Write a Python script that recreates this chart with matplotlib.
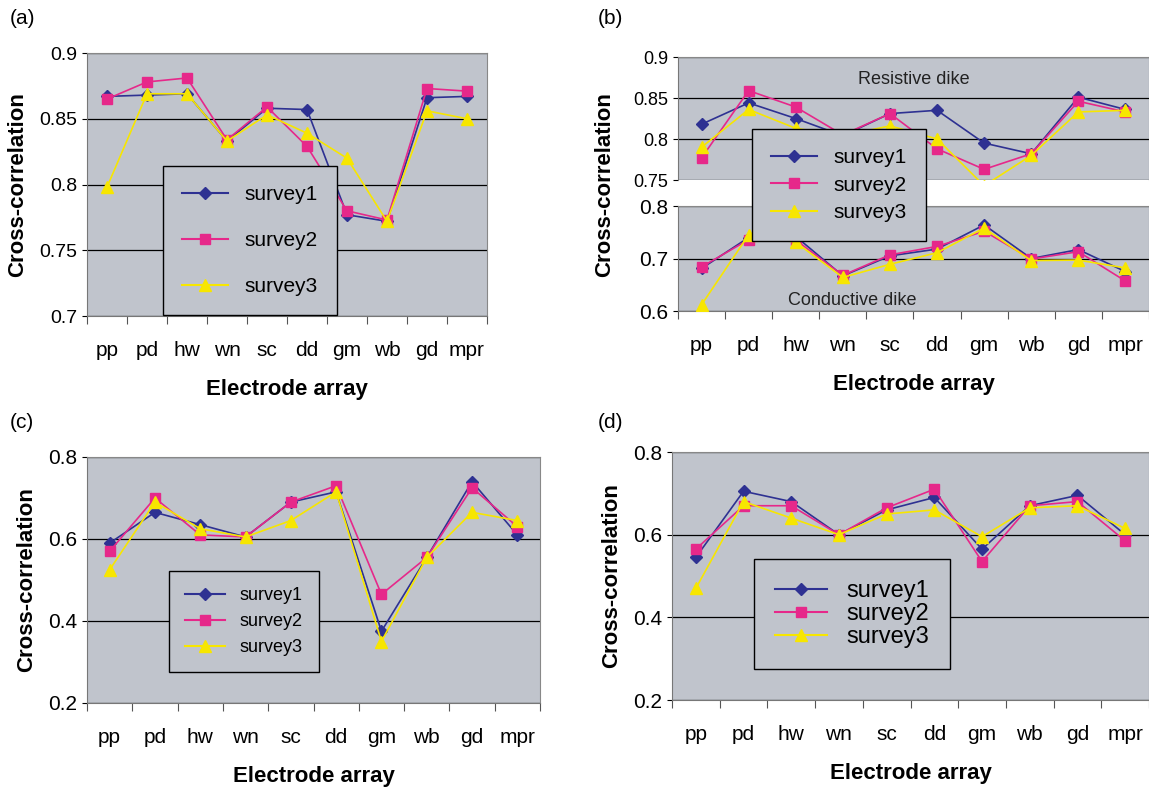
import matplotlib
matplotlib.use("Agg")
import matplotlib.pyplot as plt
from matplotlib.lines import Line2D
plt.rcParams['font.family'] = ['Liberation Sans', 'DejaVu Sans']

cats = ["pp","pd","hw","wn","sc","dd","gm","wb","gd","mpr"]
a1 = [.867,.868,.869,.833,.858,.857,.777,.772,.866,.867]
a2 = [.865,.878,.881,.834,.859,.829,.780,.773,.873,.871]
a3 = [.798,.869,.869,.833,.853,.839,.820,.772,.856,.850]
bu1 = [.818,.844,.825,.804,.831,.835,.795,.782,.851,.836]
bu2 = [.777,.859,.839,.805,.831,.788,.763,.782,.846,.833]
bu3 = [.790,.836,.813,.804,.816,.800,.743,.780,.833,.835]
bl1 = [.681,.740,.742,.667,.705,.718,.764,.700,.717,.675]
bl2 = [.684,.736,.735,.668,.707,.723,.752,.699,.713,.657]
bl3 = [.612,.745,.731,.664,.689,.711,.758,.696,.697,.682]
c1 = [.59,.665,.635,.605,.69,.715,.375,.555,.74,.61]
c2 = [.57,.70,.61,.605,.69,.73,.465,.555,.725,.63]
c3 = [.525,.69,.625,.605,.645,.715,.35,.555,.665,.645]
d1 = [.545,.705,.68,.60,.66,.69,.565,.67,.695,.60]
d2 = [.565,.67,.67,.60,.665,.71,.535,.67,.68,.585]
d3 = [.47,.68,.64,.60,.65,.66,.595,.665,.67,.615]

C1, C2, C3 = "#2e3192", "#e6288a", "#f7e600"
BG = "#c0c4cc"
W, H = 1149, 789
fig = plt.figure(figsize=(W/100, H/100), dpi=100)

def ax_px(x0, y0, x1, y1):
    return fig.add_axes([x0/W, 1-y1/H, (x1-x0)/W, (y1-y0)/H])

x = list(range(len(cats)))

def style(ax, yt, ylim, fmt, labels=True, fs=14):
    ax.set_facecolor(BG)
    ax.set_xlim(-0.5, 9.5)
    ax.set_ylim(*ylim)
    ax.set_yticks(yt)
    ax.set_yticklabels([fmt(v) for v in yt], fontsize=fs)
    for v in yt:
        ax.axhline(v, color="black", lw=0.9, zorder=1)
    ax.set_xticks([i-0.5 for i in range(11)])
    ax.set_xticklabels([])
    ax.tick_params(axis="x", length=6, color="#555")
    ax.set_xticks(x, minor=True)
    if labels:
        ax.set_xticklabels(cats, minor=True, fontsize=15)
    ax.tick_params(axis="x", which="minor", length=0, pad=18)
    for s in ["top", "right"]:
        ax.spines[s].set_color("#888")
    ax.spines["left"].set_color("#777")
    ax.spines["bottom"].set_color("#777")

def plot3(ax, s1, s2, s3):
    ax.plot(x, s1, color=C1, marker="D", ms=6, lw=1.2, zorder=3)
    ax.plot(x, s2, color=C2, marker="s", ms=7, lw=1.2, zorder=4)
    ax.plot(x, s3, color=C3, marker="^", ms=8, lw=1.2, zorder=5)

handles = [Line2D([], [], color=C1, marker="D", ms=6),
           Line2D([], [], color=C2, marker="s", ms=7),
           Line2D([], [], color=C3, marker="^", ms=8)]
names = ["survey1", "survey2", "survey3"]

def leg(where, bbox, fs, spacing):
    l = where.legend(handles, names, loc="center", bbox_to_anchor=bbox,
                     bbox_transform=fig.transFigure, fontsize=fs, frameon=True,
                     fancybox=False, facecolor=BG, edgecolor="black",
                     labelspacing=spacing, borderpad=0.9, handlelength=2.2)
    l.get_frame().set_alpha(1)
    l.set_zorder(10)
    return l

def bx(x0, y0, x1, y1):
    return (x0/W, 1-y1/H, (x1-x0)/W, (y1-y0)/H)

f2 = lambda v: ("%.2f" % v).rstrip("0").rstrip(".") if v != round(v, 1) else "%.1f" % v
f1 = lambda v: "%.1f" % v
LB = dict(fontsize=16, fontweight="bold")

# (a)
ax = ax_px(87, 53, 487, 316)
style(ax, [0.7, 0.75, 0.8, 0.85, 0.9], (0.7, 0.9), f2)
plot3(ax, a1, a2, a3)
ax.set_ylabel("Cross-correlation", labelpad=8, **LB)
ax.set_xlabel("Electrode array", labelpad=14, **LB)
leg(ax, bx(165, 176, 335, 305), 15, 1.3)
fig.text(10/W, 1-18/H, "(a)", fontsize=15, va="center")

# (b)
axu = ax_px(678, 57, 1149, 180)
style(axu, [0.75, 0.8, 0.85, 0.9], (0.75, 0.9), f2, labels=False, fs=13)
axu.tick_params(axis="x", length=0)
plot3(axu, bu1, bu2, bu3)
axu.spines["bottom"].set_visible(False)
axu.text(0.5, 0.78, "Resistive dike", transform=axu.transAxes, ha="center", fontsize=13, color="#222")
axl = ax_px(678, 206, 1149, 311)
style(axl, [0.6, 0.7, 0.8], (0.6, 0.8), f1, fs=15)
plot3(axl, bl1, bl2, bl3)
axl.text(0.37, 0.06, "Conductive dike", transform=axl.transAxes, ha="center", fontsize=13, color="#222")
axl.set_xlabel("Electrode array", labelpad=14, **LB)
fig.text(605/W, 1-185/H, "Cross-correlation", rotation=90, ha="center", va="center", **LB)
leg(axl, bx(750, 142, 928, 228), 15, 0.4)
fig.text(598/W, 1-18/H, "(b)", fontsize=15, va="center")

# (c)
ax = ax_px(87, 457, 540, 703)
style(ax, [0.2, 0.4, 0.6, 0.8], (0.2, 0.8), f1, fs=15)
plot3(ax, c1, c2, c3)
ax.set_ylabel("Cross-correlation", labelpad=8, **LB)
ax.set_xlabel("Electrode array", labelpad=14, **LB)
leg(ax, bx(180, 575, 308, 668), 13, 0.5)
fig.text(10/W, 1-423/H, "(c)", fontsize=15, va="center")

# (d)
ax = ax_px(672, 452, 1149, 700)
style(ax, [0.2, 0.4, 0.6, 0.8], (0.2, 0.8), f1, fs=15)
plot3(ax, d1, d2, d3)
ax.set_ylabel("Cross-correlation", labelpad=8, **LB)
ax.set_xlabel("Electrode array", labelpad=14, **LB)
leg(ax, bx(752, 567, 952, 661), 17, 0.05)
fig.text(598/W, 1-423/H, "(d)", fontsize=15, va="center")

fig.savefig("out.png", dpi=100)
